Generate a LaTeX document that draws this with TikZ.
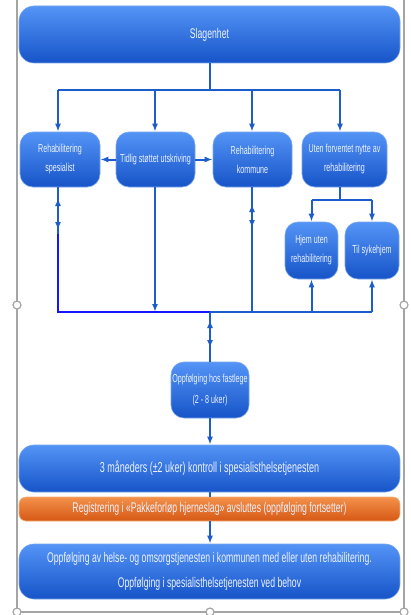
\documentclass[tikz,border=0pt]{standalone}
\usepackage{fontspec}
\setmainfont{Liberation Sans}[FakeStretch=0.62]
\usetikzlibrary{arrows.meta}
\definecolor{btop}{RGB}{84,148,246}
\definecolor{bbot}{RGB}{22,84,200}
\definecolor{bedge}{RGB}{120,165,235}
\definecolor{otop}{RGB}{243,145,75}
\definecolor{obot}{RGB}{214,88,20}
\definecolor{oedge}{RGB}{245,175,120}
\definecolor{lc}{RGB}{28,92,205}
\definecolor{pb}{RGB}{20,20,255}
\definecolor{framec}{RGB}{165,165,165}
\definecolor{txt}{RGB}{236,242,255}
\begin{document}
\begin{tikzpicture}[x=1pt,y=-1pt,
  box/.style={rounded corners=13pt, top color=btop, bottom color=bbot, draw=bedge, line width=0.6pt, text=txt, align=center, inner sep=0pt},
  obox/.style={rounded corners=7pt, top color=otop, bottom color=obot, draw=oedge, line width=0.6pt, text=txt, align=center, inner sep=0pt},
  ln/.style={draw=lc, line width=2pt},
  lnb/.style={draw=pb, line width=2.5pt},
  arr/.style={draw=lc, line width=2pt, -{Latex[length=8pt,width=6pt]}},
  rowfont/.style={font=\fontsize{11.5}{19}\selectfont}]
\useasboundingbox (0,0) rectangle (410,615);

% frame
\draw[framec, line width=1.2pt] (17,0) -- (17,612) -- (404,612) -- (404,0);
\foreach \p in {(17,305),(404,305),(17,612),(210,612),(404,612)}
  \draw[framec, fill=white, line width=1.2pt] \p circle (4pt);

% nodes
\node[box, rounded corners=15pt, minimum width=381pt, minimum height=57pt, font=\fontsize{14}{16}\selectfont] (top) at (209.5,34.5) {Slagenhet};
\node[box, rowfont, minimum width=80pt, minimum height=55pt] (b1) at (60,159.5) {Rehabilitering\\spesialist};
\node[box, rowfont, minimum width=79pt, minimum height=55pt] (b2) at (155.5,159.5) {Tidlig støttet utskriving};
\node[box, rowfont, minimum width=79pt, minimum height=55pt] (b3) at (252.5,159.5) {Rehabilitering\\kommune};
\node[box, rowfont, minimum width=85pt, minimum height=55pt] (b4) at (344.5,159.5) {Uten forventet nytte av\\rehabilitering};
\node[box, rowfont, minimum width=53pt, minimum height=57pt] (hjem) at (311.5,250.5) {Hjem uten\\rehabilitering};
\node[box, rowfont, minimum width=54pt, minimum height=57pt] (syk) at (372,250.5) {Til sykehjem};
\node[box, font=\fontsize{11.5}{21}\selectfont, minimum width=78pt, minimum height=56pt] (fast) at (210,390) {Oppfølging hos fastlege\\(2 - 8 uker)};
\node[box, rounded corners=15pt, font=\fontsize{14.5}{17}\selectfont, minimum width=381pt, minimum height=47pt] (tre) at (209.5,468.5) {3 måneders (±2 uker) kontroll i spesialisthelsetjenesten};
\node[obox, font=\fontsize{14}{16}\selectfont, minimum width=381pt, minimum height=24pt] (reg) at (209.5,509) {Registrering i «Pakkeforløp hjerneslag» avsluttes (oppfølging fortsetter)};
\node[box, rounded corners=15pt, font=\fontsize{14}{25}\selectfont, minimum width=381pt, minimum height=55pt] (last) at (209.5,571.5) {Oppfølging av helse- og omsorgstjenesten i kommunen med eller uten rehabilitering.\\Oppfølging i spesialisthelsetjenesten ved behov};

% junction coordinates
\coordinate (t0) at (209.5,90);
\coordinate (tL) at (58,90);
\coordinate (tR) at (340,90);
\coordinate (t2) at (155,90);
\coordinate (t3) at (252,90);
\coordinate (s0) at (340,200);
\coordinate (bL) at (58,312);
\coordinate (bM) at (210,312);
\coordinate (bR) at (372,312);
\coordinate (u1) at (58,198);
\coordinate (d1) at (58,230);
\coordinate (p1) at (58,234);
\coordinate (u3) at (252,204);
\coordinate (d3) at (252,228);
\coordinate (uc) at (210,320);
\coordinate (dc) at (210,348);

% top tree
\draw[ln] (top.south) -- (t0);
\draw[ln] (tL) -- (tR);
\draw[arr] (tL) -- (tL |- b1.north);
\draw[arr] (t2) -- (t2 |- b2.north);
\draw[arr] (t3) -- (t3 |- b3.north);
\draw[arr] (tR) -- (tR |- b4.north);

% side arrows
\draw[arr] (b2.west) -- (b1.east);
\draw[arr] (b2.east) -- (b3.west);

% below b4
\draw[ln] (b4.south -| s0) -- (s0);
\draw[ln] (hjem.north |- s0) -- (syk.north |- s0);
\draw[arr] (hjem.north |- s0) -- (hjem.north);
\draw[arr] (syk.north |- s0) -- (syk.north);

% bottom collector
\draw[arr] (bL) -- (u1);
\draw[arr] (b1.south -| bL) -- (d1);
\draw[ln] (bM) -- (bR);
\draw[lnb] (p1) -- (bL) -- (bM);
\draw[arr] (b2.south -| t2) -- (t2 |- bM);
\draw[arr] (b3.south -| u3) -- (d3);
\draw[arr] (bM -| u3) -- (u3);
\draw[arr] (bR -| hjem.south) -- (hjem.south);
\draw[arr] (bR) -- (syk.south);

% central stem
\draw[arr] (fast.north) -- (uc);
\draw[arr] (bM) -- (dc);
\draw[arr] (fast.south) -- (fast.south |- tre.north);
\draw[ln] (tre.south -| fast.south) -- (reg.north -| fast.south);
\draw[arr] (reg.south -| fast.south) -- (last.north -| fast.south);
\end{tikzpicture}
\end{document}
